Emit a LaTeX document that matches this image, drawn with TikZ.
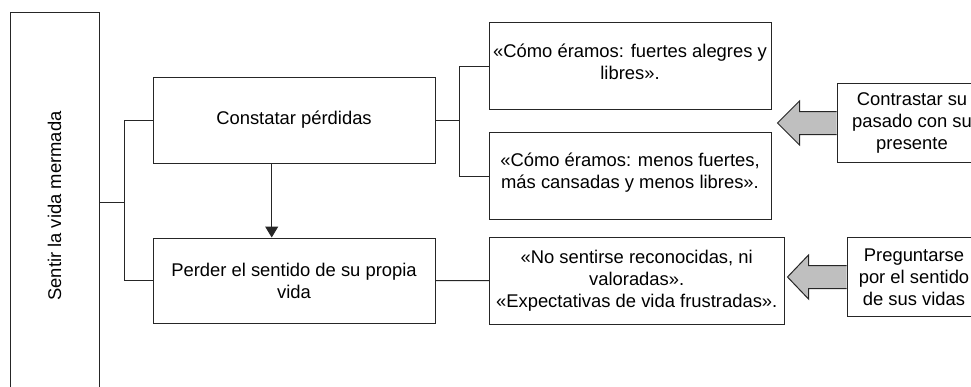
\documentclass[tikz,border=0pt]{standalone}
\usepackage{fontspec}
\setmainfont{Liberation Sans}
\usetikzlibrary{arrows.meta,calc}
\begin{document}
\begin{tikzpicture}[x=1pt,y=-1pt,
  txt/.style={inner sep=0pt, align=center, font=\fontsize{18.4}{22}\selectfont},
  box/.style={txt, draw=black!85, line width=1pt, fill=white},
  conn/.style={draw=black!85, line width=1pt},
  garrow/.style={draw=black!85, line width=1pt, fill=black!25, line join=miter}
]
\clip (0,0) rectangle (971,386);
\fill[white] (0,0) rectangle (971,386);
% nodes
\node[box, minimum width=89pt, minimum height=388pt] (sentir) at (54.5,206) {};
\node[txt, rotate=90] (sentirtxt) at (sentir.center) {Sentir la vida mermada};
\node[box, minimum width=282pt, minimum height=86pt] (constatar) at (294,120) {Constatar pérdidas};
\node[box, minimum width=282pt, minimum height=85pt] (perder) at (294,280.5) {Perder el sentido de su propia\\vida};
\node[box, minimum width=282pt, minimum height=86.6pt] (b1) at (630,66) {};
\node[txt, yshift=4pt] (b1t) at (b1.center) {«Cómo éramos: fuertes alegres y\\libres».};
\node[box, minimum width=282pt, minimum height=86.6pt] (b2) at (630,176) {};
\node[txt, yshift=3pt] (b2t) at (b2.center) {«Cómo éramos: menos fuertes,\\más cansadas y menos libres».};
\node[box, minimum width=294.7pt, minimum height=86.7pt] (b3) at (636.7,280.7) {«No sentirse reconocidas, ni\\valoradas».\\«Expectativas de vida frustradas».};
\node[box, minimum width=150pt, minimum height=79.4pt] (contr) at (912,123) {Contrastar su\\pasado con su\\presente};
\node[box, minimum width=134pt, minimum height=78.3pt] (preg) at (914,277) {Preguntarse\\por el sentido\\de sus vidas};
% connectors
\coordinate (j1) at (124,202);
\coordinate (j2) at (459,120);
\coordinate (ax) at (271.7,0);
\draw[conn] (sentir.east |- j1) -- (j1);
\draw[conn] (j1) |- (constatar.west);
\draw[conn] (j1) |- (perder.west);
\draw[conn] (constatar.east) -- (j2);
\draw[conn] (j2) |- (b1.west);
\draw[conn] (j2) |- (b2.west);
\draw[conn] (perder.east) -- (b3.west);
\draw[conn, -{Triangle[length=11pt,width=13pt]}] (constatar.south -| ax) -- (perder.north -| ax);
% block arrows
\draw[garrow] ($(contr.west)+(0,-11.5)$) -- ++(-37,0) -- ++(0,-10.5) -- ($(contr.west)+(-59,0)$) -- ($(contr.west)+(-37,22)$) -- ++(0,-10.5) -- ($(contr.west)+(0,11.5)$);
\draw[garrow] ($(preg.west)+(0,-11.5)$) -- ++(-38,0) -- ++(0,-10.5) -- ($(preg.west)+(-59,0)$) -- ($(preg.west)+(-38,22)$) -- ++(0,-10.5) -- ($(preg.west)+(0,11.5)$);
\end{tikzpicture}
\end{document}
